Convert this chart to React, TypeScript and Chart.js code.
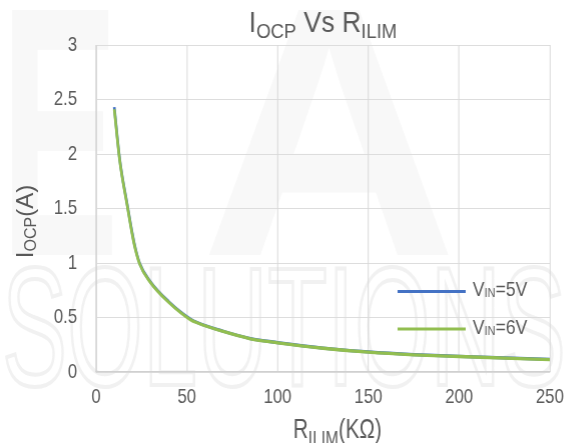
import React, { useEffect, useRef } from "react";
import { Chart, registerables } from "chart.js";

Chart.register(...registerables);

// ---- data ----
const rIlim = [10, 13, 17, 21, 24, 30, 40, 52, 56, 70, 85, 100, 125, 150, 175, 200, 250];
const vin5 = [2.43, 1.95, 1.55, 1.18, 0.995, 0.825, 0.645, 0.485, 0.452, 0.374, 0.307, 0.27, 0.22, 0.184, 0.16, 0.144, 0.115];
const vin6 = [2.41, 1.94, 1.54, 1.17, 0.99, 0.82, 0.64, 0.48, 0.45, 0.372, 0.305, 0.268, 0.218, 0.182, 0.158, 0.142, 0.113];
const xTicks = [0, 50, 100, 150, 200, 250];
const yTicks = [0, 0.5, 1, 1.5, 2, 2.5, 3];
type Part = [string, boolean];
const titleParts: Part[] = [["I", false], ["OCP", true], [" Vs R", false], ["ILIM", true]];
const xTitleParts: Part[] = [["R", false], ["ILIM", true], ["(KΩ)", false]];
const yTitleParts: Part[] = [["I", false], ["OCP", true], ["(A)", false]];
const legendParts: Part[][] = [
  [["V", false], ["IN", true], ["=5V", false]],
  [["V", false], ["IN", true], ["=6V", false]],
];
const seriesColors = ["#4472c4", "#92be50"];

const FONT = '"Liberation Sans", Arial, sans-serif';
const TEXT = "#595959";
const OUT_W = 570;
const OUT_H = 443;
const SQ = 0.8; // horizontal condensing of the whole drawing
const IN_W = OUT_W / SQ;

function drawRich(
  ctx: CanvasRenderingContext2D,
  parts: Part[],
  x: number,
  y: number,
  align: "left" | "center",
  main: number,
  sub: number,
  subDy: number,
  hs: number
) {
  ctx.save();
  ctx.fillStyle = TEXT;
  ctx.textBaseline = "alphabetic";
  ctx.textAlign = "left";
  const widths = parts.map(([t, s]) => {
    ctx.font = `${s ? sub : main}px ${FONT}`;
    return ctx.measureText(t).width;
  });
  const total = widths.reduce((a, b) => a + b, 0) * hs;
  const start = align === "center" ? x - total / 2 : x;
  ctx.translate(start, y);
  ctx.scale(hs, 1);
  let cx = 0;
  parts.forEach(([t, s], i) => {
    ctx.font = `${s ? sub : main}px ${FONT}`;
    ctx.fillText(t, cx, s ? subDy : 0);
    cx += widths[i];
  });
  ctx.restore();
}

const condense = {
  id: "condense",
  beforeDraw(chart: any) {
    const ctx: CanvasRenderingContext2D = chart.ctx;
    ctx.setTransform(1, 0, 0, 1, 0, 0);
    // faint watermark, drawn in real pixels
    ctx.save();
    ctx.fillStyle = "#f8f8f8";
    ctx.font = 'bold 356px "Liberation Sans", Arial, sans-serif';
    ctx.textBaseline = "alphabetic";
    ctx.fillText("A", 200, 255);
    ctx.save();
    ctx.translate(0, 255);
    ctx.scale(0.5, 1);
    ctx.fillText("E", 0, 0);
    ctx.restore();
    ctx.translate(2, 385);
    ctx.scale(0.58, 1);
    ctx.strokeStyle = "#f1f1f1";
    ctx.lineWidth = 4;
    ctx.font = '168px "Liberation Sans", Arial, sans-serif';
    ctx.strokeText("SOLUTIONS", 0, 0);
    ctx.restore();
    ctx.setTransform(SQ, 0, 0, 1, 0, 0);
  },
  afterDraw(chart: any) {
    const ctx: CanvasRenderingContext2D = chart.ctx;
    ctx.setTransform(1, 0, 0, 1, 0, 0);
    const ca = chart.chartArea;
    const left = ca.left * SQ;
    const right = ca.right * SQ;
    const cx = (left + right) / 2;
    drawRich(ctx, titleParts, cx, ca.top - 13.3, "center", 30, 21, 6.6, 0.88);
    drawRich(ctx, xTitleParts, cx + 14.5, ca.bottom + 66, "center", 28, 21, 6.7, 0.74);
    ctx.save();
    ctx.translate(33, (ca.top + ca.bottom) / 2 + 13);
    ctx.rotate(-Math.PI / 2);
    drawRich(ctx, yTitleParts, 0, 0, "center", 24, 16, 3, 1);
    ctx.restore();
    legendParts.forEach((parts, i) => {
      const ly = ca.top + 246.5 + i * 37.6;
      ctx.save();
      ctx.strokeStyle = seriesColors[i];
      ctx.lineWidth = 3;
      ctx.beginPath();
      ctx.moveTo(right - 152, ly);
      ctx.lineTo(right - 84, ly);
      ctx.stroke();
      ctx.restore();
      drawRich(ctx, parts, right - 77, ly + 4.5, "left", 21, 13, 1, 0.84);
    });
  },
};

export default function App() {
  const ref = useRef<HTMLCanvasElement>(null);
  useEffect(() => {
    if (!ref.current) return;
    const tickFmt = (v: any) => `${v}`;
    const chart = new Chart(ref.current, {
      type: "scatter",
      data: {
        datasets: [
          {
            label: "VIN=5V",
            data: rIlim.map((x, i) => ({ x, y: vin5[i] })),
            borderColor: seriesColors[0],
            backgroundColor: seriesColors[0],
            showLine: true,
            borderWidth: 3.3,
            pointRadius: 0,
            cubicInterpolationMode: "monotone",
            order: 1,
          },
          {
            label: "VIN=6V",
            data: rIlim.map((x, i) => ({ x, y: vin6[i] })),
            borderColor: seriesColors[1],
            backgroundColor: seriesColors[1],
            showLine: true,
            borderWidth: 3.3,
            pointRadius: 0,
            cubicInterpolationMode: "monotone",
            order: 0,
          },
        ],
      },
      options: {
        animation: false,
        responsive: true,
        maintainAspectRatio: false,
        layout: { padding: { top: 45, right: 21 / SQ, left: 0, bottom: 0 } },
        plugins: { legend: { display: false }, tooltip: { enabled: false }, title: { display: false } },
        scales: {
          x: {
            type: "linear",
            min: 0,
            max: 250,
            afterBuildTicks: (s: any) => {
              s.ticks = xTicks.map((v) => ({ value: v }));
            },
            afterFit: (s: any) => {
              s.height = 71;
              s.paddingLeft = 0;
              s.paddingRight = 0;
            },
            grid: { color: "#d9d9d9", lineWidth: 1 / SQ, drawTicks: false },
            border: { color: "#d0d0d0", width: 1 / SQ },
            ticks: { color: TEXT, font: { size: 21, family: FONT }, padding: 13, maxRotation: 0, callback: tickFmt },
          },
          y: {
            type: "linear",
            min: 0,
            max: 3,
            afterBuildTicks: (s: any) => {
              s.ticks = yTicks.map((v) => ({ value: v }));
            },
            afterFit: (s: any) => {
              s.width = 96 / SQ;
              s.paddingTop = 0;
              s.paddingBottom = 0;
            },
            grid: { color: "#d9d9d9", lineWidth: 1, drawTicks: false },
            border: { color: "#d0d0d0", width: 1 },
            ticks: { color: TEXT, font: { size: 21, family: FONT }, padding: 19 / SQ, callback: tickFmt },
          },
        },
      },
      plugins: [condense],
    });
    return () => chart.destroy();
  }, []);
  return (
    <div style={{ position: "absolute", left: 0, top: 0, width: OUT_W, height: OUT_H, overflow: "hidden", background: "#fff" }}>
      <div style={{ width: IN_W, height: OUT_H }}>
        <canvas ref={ref} />
      </div>
    </div>
  );
}
